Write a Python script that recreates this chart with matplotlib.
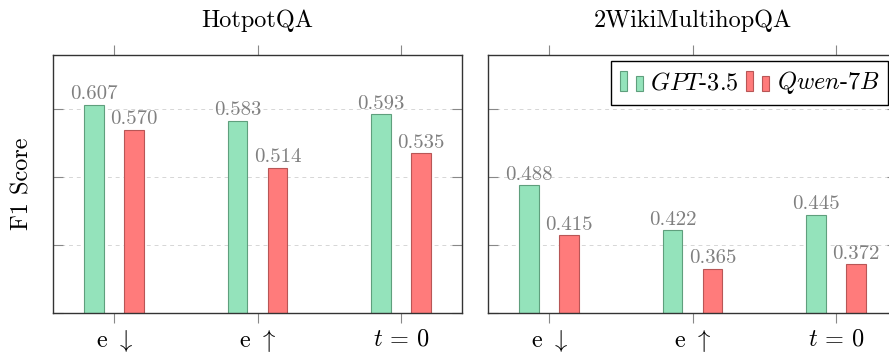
"""Grouped F1 bars for HotpotQA and 2WikiMultihopQA, pgfplots look."""

import matplotlib

matplotlib.use("Agg")
import matplotlib.pyplot as plt
import numpy as np
from matplotlib.container import BarContainer
from matplotlib.legend_handler import HandlerBase
from matplotlib.patches import Rectangle

DATASETS = ["HotpotQA", "2WikiMultihopQA"]
SETTINGS = ["e $\\downarrow$", "e $\\uparrow$", "$t\\,=\\,0$"]
GPT35_HOTPOT = [0.607, 0.583, 0.593]
QWEN_HOTPOT = [0.570, 0.514, 0.535]
GPT35_WIKI = [0.488, 0.422, 0.445]
QWEN_WIKI = [0.415, 0.365, 0.372]
MODELS = ["$GPT$-3.5", "$Qwen$-7$B$"]

GREEN = "#94e3bb"
GREEN_EDGE = "#5f9f7d"
RED = "#ff7b7b"
RED_EDGE = "#b85656"

plt.rcParams["font.family"] = "serif"
plt.rcParams["font.serif"] = ["cmr10", "DejaVu Serif"]
plt.rcParams["mathtext.fontset"] = "cm"
plt.rcParams["axes.formatter.use_mathtext"] = True


class TwoBarHandler(HandlerBase):
    """Legend marker drawn as two small bars, like pgfplots ybar legend."""

    def create_artists(self, legend, orig_handle, xdescent, ydescent, width, height, fontsize, trans):
        patch = orig_handle.patches[0]
        artists = []
        for x0, frac in ((0.0, 1.0), (0.7, 0.75)):
            rect = Rectangle(
                (-xdescent + x0 * width, -ydescent),
                width * 0.3,
                height * frac,
                facecolor=patch.get_facecolor(),
                edgecolor=patch.get_edgecolor(),
                linewidth=patch.get_linewidth(),
                transform=trans,
            )
            artists.append(rect)
        return artists


def draw_panel(ax, title, gpt, qwen):
    x = np.arange(len(SETTINGS))
    width = 0.135
    b1 = ax.bar(x - 0.14, gpt, width, color=GREEN, edgecolor=GREEN_EDGE, linewidth=0.8, label=MODELS[0])
    b2 = ax.bar(x + 0.14, qwen, width, color=RED, edgecolor=RED_EDGE, linewidth=0.8, label=MODELS[1])
    for bars in (b1, b2):
        ax.bar_label(bars, fmt="%.3f", padding=1, color="#808080", fontsize=15)

    ax.set_xlim(-0.425, 2.425)
    ax.set_ylim(0.3, 0.68)
    ax.set_xticks(x)
    ax.set_xticklabels(SETTINGS)
    ax.set_yticks([0.3, 0.4, 0.5, 0.6])
    ax.tick_params(axis="x", direction="out", top=True, length=7, width=0.8, color="#888888", labelsize=17.5, pad=4)
    ax.tick_params(axis="y", direction="in", left=True, right=True, length=7, width=0.8, color="#888888", labelleft=False)
    ax.yaxis.grid(True, linestyle=(0, (4, 4)), linewidth=0.7, color="#d6d6d6")
    ax.set_axisbelow(True)
    for spine in ax.spines.values():
        spine.set_color("#333333")
        spine.set_linewidth(1.0)
    ax.text(0.5, 1 + 28 / 258, title, transform=ax.transAxes, ha="center", va="baseline", fontsize=17.5)
    return b1, b2


def main():
    fig = plt.figure(figsize=(8.89, 3.54), dpi=100)
    ax1 = fig.add_axes([53 / 889, 41 / 354, 409 / 889, 258 / 354])
    ax2 = fig.add_axes([488 / 889, 41 / 354, 409 / 889, 258 / 354])

    draw_panel(ax1, DATASETS[0], GPT35_HOTPOT, QWEN_HOTPOT)
    b1, b2 = draw_panel(ax2, DATASETS[1], GPT35_WIKI, QWEN_WIKI)

    ax2.legend(
        [b1, b2],
        MODELS,
        handler_map={BarContainer: TwoBarHandler()},
        loc="upper right",
        bbox_to_anchor=(0.978, 0.977),
        borderaxespad=0,
        ncol=2,
        fontsize=17.5,
        handlelength=0.95,
        handleheight=0.85,
        handletextpad=0.3,
        columnspacing=0.3,
        borderpad=0.35,
        fancybox=False,
        framealpha=1,
        edgecolor="black",
    ).get_frame().set_linewidth(1.0)

    fig.text(22 / 889, 1 - 184 / 354, "F1 Score", rotation=90, ha="center", va="center", fontsize=17.5)

    fig.savefig("out.png", dpi=100)


if __name__ == "__main__":
    main()
